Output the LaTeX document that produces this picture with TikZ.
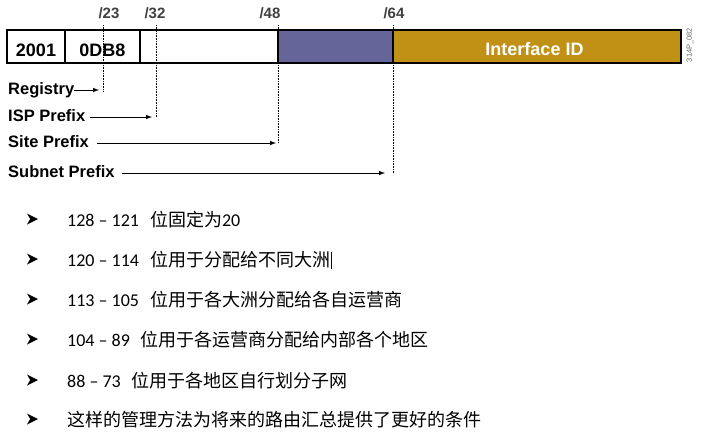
\documentclass[tikz,border=0pt]{standalone}
\usepackage{fontspec}
\setmainfont{Liberation Sans}
\newfontfamily\cjk{Noto Sans CJK SC}
\newfontfamily\numfont{Carlito}
\usetikzlibrary{positioning}
\definecolor{sitebl}{RGB}{101,101,153}
\definecolor{iidgold}{RGB}{193,145,22}
\tikzset{
  field/.style={draw, line width=1.2pt, minimum height=33pt, inner sep=0pt, outer sep=0pt},
  fieldtext/.style={font=\bfseries\fontsize{18}{18}\selectfont},
  bitlbl/.style={font=\bfseries\fontsize{15}{15}\selectfont, text=black!75},
  prefixlbl/.style={anchor=west, inner sep=0pt, text height=11pt, text depth=3pt, font=\bfseries\fontsize{16.5}{16.5}\selectfont},
  cutline/.style={densely dotted, line width=0.6pt},
  reach/.style={->, >=latex, line width=1pt},
  noteline/.style={anchor=west, inner sep=0pt, font=\cjk\fontsize{18}{18}\selectfont},
}
% arrowhead bullet
\newcommand\notemark[1]{\fill (#1) ++(-5.5,-5.5) -- ++(11,5.5) -- ++(-11,5.5) -- ++(3.2,-5.5) -- cycle;}

\begin{document}
\begin{tikzpicture}[x=1pt,y=-1pt]
\useasboundingbox (0,0) rectangle (701,439);
% address bar
\node[field, minimum width=58pt] (f2001) at (36,46.5) {};
\node[field, minimum width=75pt, right=0pt of f2001] (fdb8) {};
\node[field, minimum width=138pt, right=0pt of fdb8] (fisp) {};
\node[field, minimum width=115pt, fill=sitebl, right=0pt of fisp] (fsite) {};
\node[field, minimum width=288pt, fill=iidgold, right=0pt of fsite] (fiid) {};
\node[fieldtext] (t2001) at ([yshift=-4pt]f2001.center) {2001};
\node[fieldtext] (tdb8) at ([yshift=-4pt]fdb8.center) {0DB8};
\node[fieldtext, text=white] (tiid) at ([xshift=-2.5pt,yshift=-2.5pt]fiid.center) {Interface ID};
\node[rotate=90, text=black!60, font=\fontsize{7.5}{7.5}\selectfont] (code) at (690,45) {314P\_082};

% bit boundaries
\coordinate (bartop) at (0,25);
\node[bitlbl] (l23) at (109,13) {/23};
\node[bitlbl] (l32) at (155,13) {/32};
\node[bitlbl] (l48) at (270,13) {/48};
\node[bitlbl] (l64) at (394,13) {/64};
\coordinate (e23) at (103,91);
\coordinate (e32) at (156,117);
\coordinate (e48) at (278,142);
\coordinate (e64) at (393,173);
\draw[cutline] (e23 |- bartop) -- (e23);
\draw[cutline] (e32 |- bartop) -- (e32);
\draw[cutline] (e48 |- bartop) -- (e48);
\draw[cutline] (e64 |- bartop) -- (e64);

% prefixes
\node[prefixlbl] (reg) at (8,90) {Registry};
\node[prefixlbl] (isp) at (8,117) {ISP Prefix};
\node[prefixlbl] (site) at (8,143) {Site Prefix};
\node[prefixlbl] (subnet) at (8,173) {Subnet Prefix};
\draw[reach, shorten >=4pt] (reg.east) -- (reg.east -| e23);
\draw[reach, shorten <=5pt, shorten >=4pt] (isp.east) -- (isp.east -| e32);
\draw[reach, shorten <=8pt, shorten >=2pt] (site.east) -- (site.east -| e48);
\draw[reach, shorten <=7pt, shorten >=8pt] (subnet.east) -- (subnet.east -| e64);

% notes
\coordinate (p1) at (32.5,219);
\coordinate (p2) at (32.5,259);
\coordinate (p3) at (32.5,299);
\coordinate (p4) at (32.5,339);
\coordinate (p5) at (32.5,380);
\coordinate (p6) at (32.5,419);
\notemark{p1} \notemark{p2} \notemark{p3}
\notemark{p4} \notemark{p5} \notemark{p6}
\node[noteline] (n1) at (67,220) {{\numfont 128 – 121}\hspace{11pt}位固定为{\numfont 20}};
\node[noteline] (n2) at (67,260) {{\numfont 120 – 114}\hspace{11pt}位用于分配给不同大洲};
\node[noteline] (n3) at (67,300) {{\numfont 113 – 105}\hspace{11pt}位用于各大洲分配给各自运营商};
\node[noteline] (n4) at (67,340) {{\numfont 104 – 89}\hspace{11pt}位用于各运营商分配给内部各个地区};
\node[noteline] (n5) at (67,381) {{\numfont 88 – 73}\hspace{11pt}位用于各地区自行划分子网};
\node[noteline] (n6) at (67,420) {这样的管理方法为将来的路由汇总提供了更好的条件};
\draw[line width=0.8pt, blue!40!black] ([xshift=1pt,yshift=-9pt]n2.east) -- ([xshift=1pt,yshift=8pt]n2.east);
\end{tikzpicture}
\end{document}
